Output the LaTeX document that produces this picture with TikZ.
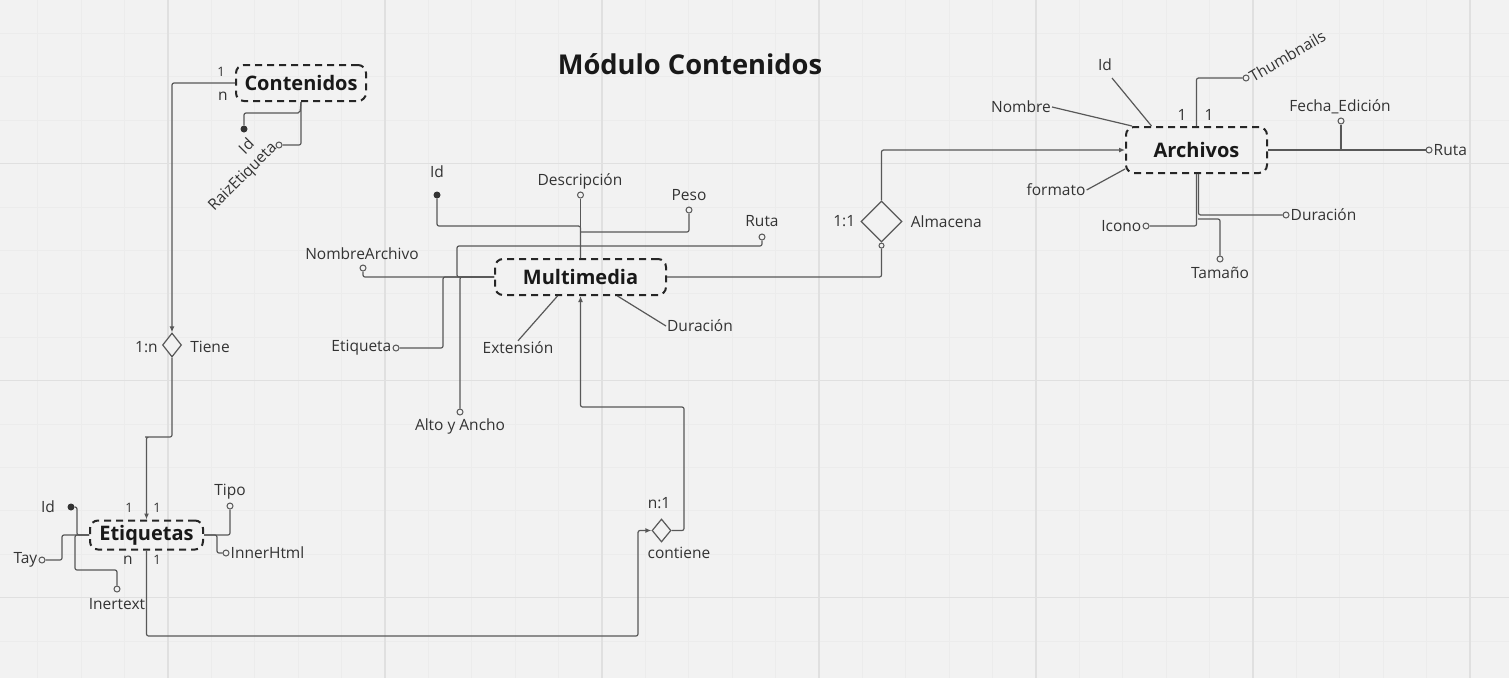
\documentclass[tikz,border=0pt]{standalone}
\usepackage{fontspec}
\setmainfont{Open Sans}
\usetikzlibrary{arrows.meta,positioning,shapes.geometric}
\definecolor{fondo}{HTML}{F2F2F2}
\definecolor{rejilla}{HTML}{ECECEC}
\definecolor{rejillab}{HTML}{E0E0E0}
\definecolor{linea}{HTML}{585858}
\definecolor{texto}{HTML}{333333}
\newcommand\tam[1]{\fontsize{#1}{#1}\selectfont}

\begin{document}
\begin{tikzpicture}[x=1pt,y=-1pt,
  ent/.style={draw=black!85,line width=2pt,dash pattern=on 7pt off 5pt,rounded corners=8pt,font=\tam{20}\bfseries,text=black!90,inner sep=0pt},
  rel/.style={diamond,draw=linea,line width=1.2pt,fill=fondo,inner sep=0pt},
  attr/.style={circle,draw=linea,line width=1pt,fill=fondo,inner sep=0pt,minimum size=6pt},
  llave/.style={circle,fill=black!80,inner sep=0pt,minimum size=7pt},
  lbl/.style={font=\tam{15.5},text=texto,inner sep=1pt},
  card/.style={font=\tam{13},text=texto,inner sep=0pt},
  con/.style={draw=linea,line width=1.2pt,rounded corners=2pt},
  flecha/.style={con,-{Latex[length=6pt,width=5pt]}}]
\useasboundingbox (0,0) rectangle (1509,678);
\fill[fondo] (0,0) rectangle (1509,678);
\foreach \gx in {0,...,33} \draw[rejilla,line width=1pt] ({37.8+43.4*\gx},0) -- ++(0,678);
\foreach \gy in {0,...,14} \draw[rejilla,line width=1pt] (0,{33.5+43.4*\gy}) -- ++(1509,0);
\foreach \gx in {168,385,602,819,1036,1253,1470} \draw[rejillab,line width=1.3pt] (\gx,0) -- ++(0,678);
\foreach \gy in {163.7,380.7,597.7} \draw[rejillab,line width=1.3pt] (0,\gy) -- ++(1509,0);

\node[font=\tam{27.3}\bfseries,text=black!90] (titulo) at (690,64) {Módulo Contenidos};

% entidades
\node[ent,minimum width=130,minimum height=36] (cont) at (301,83) {Contenidos};
\node[ent,minimum width=171,minimum height=36] (mult) at (580.5,277) {Multimedia};
\node[ent,minimum width=141,minimum height=46] (arch) at (1196.5,150) {Archivos};
\node[ent,minimum width=113,minimum height=29] (etiq) at (146.5,535) {Etiquetas};

% relaciones
\node[rel,minimum width=19,minimum height=24] (tiene) at (172,345) {};
\node[rel,minimum width=41,minimum height=41] (alm) at (881.5,221.5) {};
\node[rel,minimum width=19,minimum height=23] (contiene) at (661.5,530.5) {};
\node[attr,minimum size=5pt,below=0pt of alm] (almo) {};
\node[lbl,left=3pt of tiene,yshift=-2pt] (tiene-c) {1:n};
\node[lbl,right=7pt of tiene,yshift=-2pt] (tiene-l) {Tiene};
\node[lbl,left=4pt of alm] (alm-c) {1:1};
\node[lbl,right=7pt of alm] (alm-l) {Almacena};
\node[lbl] (contiene-c) at (659,503) {n:1};
\node[lbl] (contiene-l) at (679,553) {contiene};

% conectores
\draw[flecha] (cont.west) -| (tiene.north);
\draw[flecha] (tiene.south) |- (147,437) -| (etiq.north);
\draw[flecha] (etiq.south) |- (638,636) |- (contiene.west);
\draw[flecha] (contiene.east) -| (684,407) -| (mult.south);
\draw[con] (mult.east) -| (almo.south);
\draw[flecha] (alm.north) |- (arch.west);
\node[card] (c1) at (221,72) {1};
\node[lbl] (c2) at (223,96) {n};
\node[card] (e1) at (129,508) {1};
\node[card] (e2) at (157,508) {1};
\node[lbl] (e3) at (128,560) {n};
\node[card] (e4) at (157,560) {1};
\node[lbl] (a1) at (1182,115) {1};
\node[lbl] (a2) at (1209,115) {1};

% atributos Contenidos
\node[llave] (c-id) at (244,129) {};
\node[attr] (c-raiz) at (279,145) {};
\draw[con] (c-id) |- (300,113) -- (cont.south);
\draw[con] (c-raiz) -| (cont.south);
\node[lbl,rotate=45] (c-idl) at (246,146) {Id};
\node[lbl,rotate=45,anchor=east] (c-raizl) at (c-raiz.west) {RaizEtiqueta};

% atributos Multimedia
\node[llave] (m-id) at (437,195) {};
\node[attr] (m-desc) at (580.5,195) {};
\node[attr] (m-peso) at (689,210) {};
\node[attr] (m-ruta) at (762,237) {};
\node[attr] (m-nom) at (363,268) {};
\node[attr] (m-etq) at (396,348) {};
\node[attr] (m-alto) at (460,412) {};
\draw[con] (m-id) |- (580.5,226) -- (mult.north);
\draw[con] (m-desc) -- (mult.north);
\draw[con] (m-peso) |- (580.5,232);
\draw[con] (m-ruta) |- (457,246) |- (mult.west);
\draw[con] (m-nom) |- (mult.west);
\draw[con] (m-etq) -| (443,277) -- (mult.west);
\draw[con] (m-alto) |- (mult.west);
\node[lbl] (m-idl) at (437,172) {Id};
\node[lbl] (m-descl) at (580,181) {Descripción};
\node[lbl] (m-pesol) at (689,195) {Peso};
\node[lbl] (m-rutal) at (762,221) {Ruta};
\node[lbl] (m-noml) at (362,254) {NombreArchivo};
\node[lbl,left=0pt of m-etq] (m-etql) {Etiqueta};
\node[lbl] (m-altol) at (460,426) {Alto y Ancho};
\node[lbl] (m-extl) at (518,348) {Extensión};
\node[lbl] (m-durl) at (700,326) {Duración};
\draw[con] (m-extl.north) -- ([xshift=-23pt]mult.south);
\draw[con] (m-durl.west) -- ([xshift=37pt]mult.south);

% atributos Archivos
\node[attr] (a-thumb) at (1246,78) {};
\node[attr] (a-fecha) at (1341,121) {};
\node[attr] (a-ruta) at (1429,150) {};
\node[attr] (a-icono) at (1146,226) {};
\node[attr] (a-dur) at (1286,215) {};
\node[attr] (a-tam) at (1220,259) {};
\node[lbl] (a-idl) at (1105,65) {Id};
\node[lbl] (a-noml) at (1021,107) {Nombre};
\node[lbl] (a-fmtl) at (1056,190) {formato};
\node[lbl] (a-fechal) at (1340,107) {Fecha\_Edición};
\node[lbl,rotate=30,anchor=west] (a-thumbl) at (a-thumb.east) {Thumbnails};
\node[lbl,right=0pt of a-ruta] (a-rutal) {Ruta};
\node[lbl,left=0pt of a-icono] (a-iconol) {Icono};
\node[lbl,right=0pt of a-dur] (a-durl) {Duración};
\node[lbl] (a-taml) at (1220,273) {Tamaño};
\draw[con] (1112,78) -- ([xshift=-45pt]arch.north);
\draw[con] (a-noml.east) -- ([xshift=7pt]arch.north west);
\draw[con] (a-fmtl.east) -- ([yshift=5pt]arch.south west);
\draw[con] (arch.north) |- (a-thumb);
\draw[con] (arch.east) -- (a-ruta);
\draw[con] (a-fecha) -- (a-fecha |- arch.east);
\draw[con] (a-icono) -| (arch.south);
\draw[con] (a-dur) -| ([xshift=2pt]arch.south);
\draw[con] (a-tam) |- (1198,219);

% atributos Etiquetas
\node[llave] (e-id) at (71,507) {};
\node[attr] (e-tay) at (42,560) {};
\node[attr] (e-iner) at (117,589) {};
\node[attr] (e-tipo) at (230,506) {};
\node[attr] (e-inner) at (226,553) {};
\draw[con] (e-id) -| (77,535) -- (etiq.west);
\draw[con] (e-tay) -| (62,535) -- (etiq.west);
\draw[con] (e-iner) |- (75,570) |- (etiq.west);
\draw[con] (e-tipo) |- (etiq.east);
\draw[con] (e-inner) -| (217,535) -- (etiq.east);
\node[lbl] (e-idl) at (48,507) {Id};
\node[lbl,left=0pt of e-tay] (e-tayl) {Tay};
\node[lbl] (e-inerl) at (117,604) {Inertext};
\node[lbl] (e-tipol) at (230,492) {Tipo};
\node[lbl,right=0pt of e-inner] (e-innerl) {InnerHtml};
\end{tikzpicture}
\end{document}
